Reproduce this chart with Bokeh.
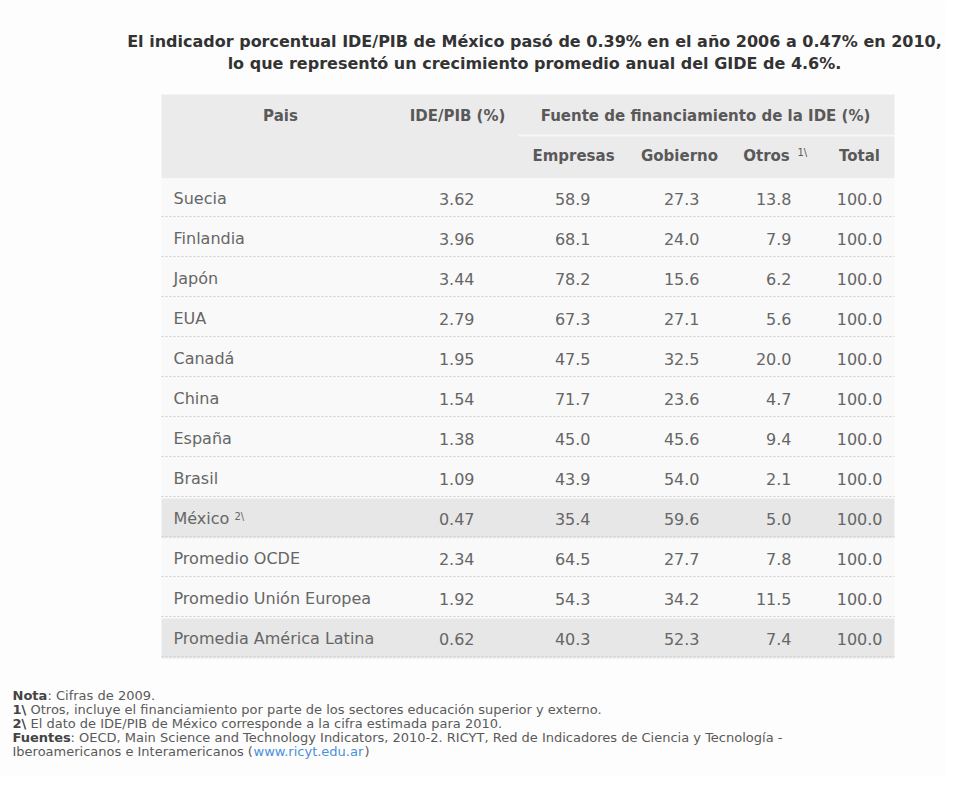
from bokeh.plotting import figure
from bokeh.models import Range1d, ColumnDataSource
from bokeh.core.properties import value
from bokeh.embed import file_html
from bokeh.resources import INLINE

# ---------------- data ----------------
titulo = [
    "El indicador porcentual IDE/PIB de México pasó de 0.39% en el año 2006 a 0.47% en 2010,",
    "lo que representó un crecimiento promedio anual del GIDE de 4.6%.",
]
paises = ["Suecia", "Finlandia", "Japón", "EUA", "Canadá", "China", "España", "Brasil",
          "México", "Promedio OCDE", "Promedio Unión Europea", "Promedia América Latina"]
ide_pib = [3.62, 3.96, 3.44, 2.79, 1.95, 1.54, 1.38, 1.09, 0.47, 2.34, 1.92, 0.62]
empresas = [58.9, 68.1, 78.2, 67.3, 47.5, 71.7, 45.0, 43.9, 35.4, 64.5, 54.3, 40.3]
gobierno = [27.3, 24.0, 15.6, 27.1, 32.5, 23.6, 45.6, 54.0, 59.6, 27.7, 34.2, 52.3]
otros = [13.8, 7.9, 6.2, 5.6, 20.0, 4.7, 9.4, 2.1, 5.0, 7.8, 11.5, 7.4]
total = [100.0, 100.0, 100.0, 100.0, 100.0, 100.0, 100.0, 100.0, 100.0, 100.0, 100.0, 100.0]
resaltados = ["México", "Promedia América Latina"]
notas_pais = {"México": "2\\"}

encabezado_1 = ["Pais", "IDE/PIB (%)", "Fuente de financiamiento de la IDE (%)"]
encabezado_2 = ["Empresas", "Gobierno", "Otros", "Total"]
nota_otros = "1\\"

notas_neg = ["Nota", "1\\", "2\\", "Fuentes"]
notas_txt = [
    ": Cifras de 2009.",
    "Otros, incluye el financiamiento por parte de los sectores educación superior y externo.",
    "El dato de IDE/PIB de México corresponde a la cifra estimada para 2010.",
    ": OECD, Main Science and Technology Indicators, 2010-2. RICYT, Red de Indicadores de Ciencia y Tecnología -",
]
nota_final = "Iberoamericanos e Interamericanos ("
enlace = "www.ricyt.edu.ar"

# ---------------- layout (pixel space of the picture) ----------------
W, H = 945, 776
p = figure(width=W, height=H, output_backend="svg", toolbar_location=None,
           x_range=Range1d(0, W), y_range=Range1d(H, 0),
           min_border=0, background_fill_color="#fdfdfd", border_fill_color="#fdfdfd",
           outline_line_color=None)
p.axis.visible = False
p.grid.visible = False

FONT = value("DejaVu Sans")
TXT = "#666666"
HDR = "#595959"

tab_l, tab_r = 161, 894
hdr_t, hdr_mid, hdr_b = 94, 135, 178
row_h = 40
fuente_l = 518

# title
p.text(x=[534, 534], y=[41, 63], text=titulo, text_font=FONT,
       text_font_style="bold", text_font_size="16px", text_color="#333333",
       text_align="center", text_baseline="middle")

# header background
p.quad(left=[tab_l], right=[tab_r], top=[hdr_t], bottom=[hdr_b], fill_color="#ebebeb", line_color=None)
p.segment(x0=[fuente_l], x1=[tab_r], y0=[hdr_mid], y1=[hdr_mid], line_color="#f7f7f7", line_width=2)

# body background
n = len(paises)
rows_top = [hdr_b + i * row_h for i in range(n)]
rows_bot = [t + row_h for t in rows_top]
fills = ["#e7e7e7" if pn in resaltados else "#f9f9f9" for pn in paises]
p.quad(left=[tab_l] * n, right=[tab_r] * n, top=rows_top, bottom=rows_bot, fill_color=fills, line_color=None)
p.segment(x0=[tab_l] * n, x1=[tab_r] * n, y0=[b - 2 for b in rows_bot], y1=[b - 2 for b in rows_bot],
          line_color="#cfcfcf", line_width=1, line_dash="2 2")

# header texts
p.text(x=[280, 457, 705], y=[115] * 3, text=encabezado_1, text_font=FONT, text_font_style="bold",
       text_font_size="15px", text_color=HDR, text_align="center", text_baseline="middle")
p.text(x=[573, 679, 766, 859], y=[155] * 4, text=encabezado_2, text_font=FONT, text_font_style="bold",
       text_font_size="15px", text_color=HDR, text_align="center", text_baseline="middle")
p.text(x=[797], y=[152], text=[nota_otros], text_font=FONT, text_font_size="10px",
       text_color=HDR, text_align="left", text_baseline="middle")

# body texts
ys = [hdr_b + (i + 0.5) * row_h for i in range(n)]
src = ColumnDataSource(dict(
    y=ys, pais=paises,
    ide=[f"{v:.2f}" for v in ide_pib],
    emp=[f"{v:.1f}" for v in empresas],
    gob=[f"{v:.1f}" for v in gobierno],
    otr=[f"{v:.1f}" for v in otros],
    tot=[f"{v:.1f}" for v in total],
))
common = dict(source=src, text_font=FONT, text_font_size="16px", text_color=TXT, text_baseline="middle")
p.text(x=173, y="y", text="pais", text_align="left", **common)
for col, xr in [("ide", 474), ("emp", 590), ("gob", 699), ("otr", 791), ("tot", 882)]:
    p.text(x=xr, y="y", text=col, text_align="right", **common)

mx = paises.index("México")
p.text(x=[234], y=[ys[mx] - 2], text=[notas_pais["México"]], text_font=FONT, text_font_size="10px",
       text_color=TXT, text_align="left", text_baseline="middle")

# footnotes
fx = 12
fy = [695, 709, 723, 737]
off = [35, 18, 18, 58]
p.text(x=[fx] * 4, y=fy, text=notas_neg, text_font=FONT, text_font_style="bold", text_font_size="13px",
       text_color="#444444", text_align="left", text_baseline="middle")
p.text(x=[fx + o for o in off], y=fy, text=notas_txt, text_font=FONT, text_font_size="13px",
       text_color="#5a5a5a", text_align="left", text_baseline="middle")
p.text(x=[fx], y=[751], text=[nota_final], text_font=FONT, text_font_size="13px",
       text_color="#5a5a5a", text_align="left", text_baseline="middle")
p.text(x=[fx + 241], y=[751], text=[enlace], text_font=FONT, text_font_size="13px",
       text_color="#4a90d9", text_align="left", text_baseline="middle")
p.text(x=[fx + 352], y=[751], text=[")"], text_font=FONT, text_font_size="13px",
       text_color="#5a5a5a", text_align="left", text_baseline="middle")

open("out.html", "w").write(file_html(p, INLINE))
